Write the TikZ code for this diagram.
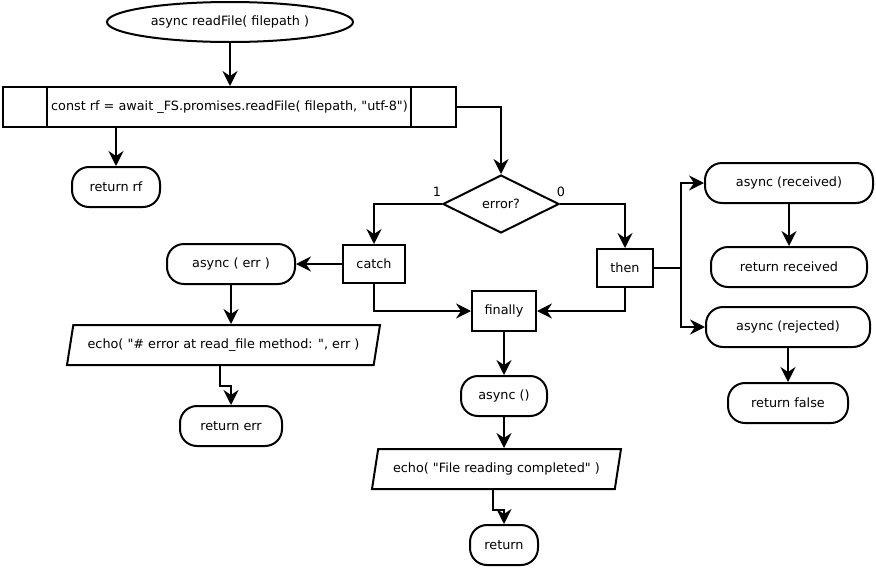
\documentclass[tikz,border=0pt]{standalone}
\usepackage{fontspec}
\setmainfont{DejaVu Sans}
\usetikzlibrary{calc}
\usetikzlibrary{shapes.geometric}
\usetikzlibrary{arrows.meta}

\begin{document}
\begin{tikzpicture}[x=1pt,y=-1pt,line width=2pt,
		font=\fontsize{12.8}{15}\selectfont,
		term/.style={draw,rounded corners=17pt,minimum height=40pt},
		blk/.style={draw,minimum height=38pt},
		io/.style={draw,trapezium,trapezium left angle=72,trapezium right angle=108,
			trapezium stretches body,minimum height=40pt,inner xsep=1pt},
		arr/.style={-{Stealth[length=15pt,width=15pt,inset=5pt]}}]
			\useasboundingbox (0,0) rectangle (876,568);
			
			\node[draw,ellipse,minimum width=246pt,minimum height=40pt] (S) at (230,22){async readFile( filepath )};
			\node[draw,minimum width=453pt,minimum height=40pt] (P) at (229.5,107){const rf = await \_FS.promises.readFile( filepath, \textquotedbl utf-8\textquotedbl)};
			\draw ($(P.north west)+(45,0)$)--($(P.south west)+(45,0)$);
			\draw ($(P.north east)+(-46,0)$)--($(P.south east)+(-46,0)$);
			\draw[arr] (S)--(S |- P.north);
			
			\node[term,minimum width=88pt] (R1) at (116,187){return rf};
			\draw[arr] (P.south -| R1)--(R1);
			
			\node[draw,diamond,aspect=2,minimum width=116pt,minimum height=58pt,inner sep=1pt] (D) at (501,204){error?};
			\draw[arr] (P.east)-|(D.north);
			\node (L1) at (437,192){1};
			\node (L0) at (561,192){0};
			
			\node[blk,minimum width=62pt] (C) at (374,264){catch};
			\node[blk,minimum width=56pt] (T) at (625,268){then};
			\draw[arr] (D.west)-|(C.north);
			\draw[arr] (D.east)-|(T.north);
			
			% catch branch
			\node[term,minimum width=128pt] (AE) at (231,264){async ( err )};
			\draw[arr] (C.west)--(AE.east);
			\node[io,minimum width=313pt] (E1) at (223.5,345){echo( \textquotedbl\# error at read\_file method: \textquotedbl, err )};
			\draw[arr] (AE)--(AE |- E1.north);
			\node[term,minimum width=102pt] (RE) at (231,426){return err};
			\coordinate (E1b) at ($(E1.bottom left corner)!0.5!(E1.bottom right corner)$);
			\draw[arr] (E1b)--++(0,20)-|(RE.north);
			
			% finally
			\node[blk,minimum width=64pt,minimum height=40pt] (F) at (504,311){finally};
			\draw[arr] (C.south)|-(F.west);
			\draw[arr] (T.south)|-(F.east);
			
			% then branch
			\draw (T.east)--++(27,0) coordinate (J);
			\node[term,minimum width=168pt] (AR) at (789,183){async (received)};
			\node[term,minimum width=156pt] (RR) at (789,267){return received};
			\node[term,minimum width=164pt] (AJ) at (788,327){async (rejected)};
			\node[term,minimum width=120pt] (RF) at (788,403){return false};
			\draw[arr] (J)|-(AR.west);
			\draw[arr] (J)|-(AJ.west);
			\draw[arr] (AR)--(RR);
			\draw[arr] (AJ)--(RF);
			
			\node[term,minimum width=86pt] (AN) at (504,396){async ()};
			\draw[arr] (F)--(AN);
			\node[io,minimum width=249pt] (E2) at (496.5,469){echo( \textquotedbl File reading completed\textquotedbl{} )};
			\draw[arr] (AN)--(AN |- E2.north);
			\node[term,minimum width=68pt] (RT) at (504,545){return};
			\coordinate (E2b) at ($(E2.bottom left corner)!0.5!(E2.bottom right corner)$);
			\draw[arr] (E2b)--++(0,20)-|(RT.north);
		\end{tikzpicture}
\end{document}
